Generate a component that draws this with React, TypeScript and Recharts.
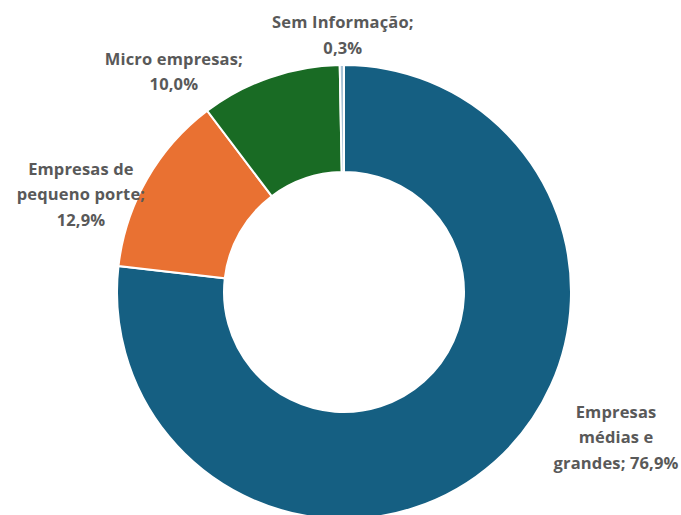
import { PieChart, Pie, Cell } from "recharts"

const categories = [
  "Empresas médias e grandes",
  "Empresas de pequeno porte",
  "Micro empresas",
  "Sem Informação",
]
const shares = [76.9, 12.9, 10.0, 0.3]
const colors = ["#155F82", "#E97132", "#196B24", "#A9C3D6"]

// how Excel wrapped each label
const labelLines = [
  ["Empresas", "médias e", "grandes; 76,9%"],
  ["Empresas de", "pequeno porte;", "12,9%"],
  ["Micro empresas;", "10,0%"],
  ["Sem Informação;", "0,3%"],
]
// shift of each label block from the slice's outer mid point
const labelShift = [
  [121, -25],
  [-66, 14],
  [-96, -7],
  [1, -31],
]

const data = categories.map((name, i) => ({ name, value: shares[i] }))

const RAD = Math.PI / 180

function renderLabel(props: any) {
  const { cx, cy, midAngle, outerRadius, index } = props
  const x0 = cx + outerRadius * Math.cos(-midAngle * RAD)
  const y0 = cy + outerRadius * Math.sin(-midAngle * RAD)
  const [dx, dy] = labelShift[index]
  const lines = labelLines[index]
  const lh = 25.5
  const top = y0 + dy - ((lines.length - 1) * lh) / 2
  return (
    <text
      key={index}
      x={x0 + dx}
      y={top}
      textAnchor="middle"
      dominantBaseline="central"
      fill="#595959"
      fontSize={16.5}
      fontWeight={700}
      letterSpacing={0.15}
      fontFamily="'Open Sans', sans-serif"
    >
      {lines.map((l, i) => (
        <tspan key={i} x={x0 + dx} y={top + i * lh}>
          {l}
        </tspan>
      ))}
    </text>
  )
}

export default function App() {
  return (
    <div style={{ position: "absolute", left: 0, top: 0, width: 681, height: 515, background: "#fff" }}>
      <PieChart width={681} height={515} margin={{ top: 0, right: 0, bottom: 0, left: 0 }}>
        <Pie
          data={data}
          dataKey="value"
          nameKey="name"
          cx={344}
          cy={292}
          innerRadius={120}
          outerRadius={227}
          startAngle={90}
          endAngle={-270}
          stroke="#fff"
          strokeWidth={2}
          label={renderLabel}
          labelLine={false}
          isAnimationActive={false}
        >
          {data.map((d, i) => (
            <Cell key={d.name} fill={colors[i]} />
          ))}
        </Pie>
      </PieChart>
    </div>
  )
}
